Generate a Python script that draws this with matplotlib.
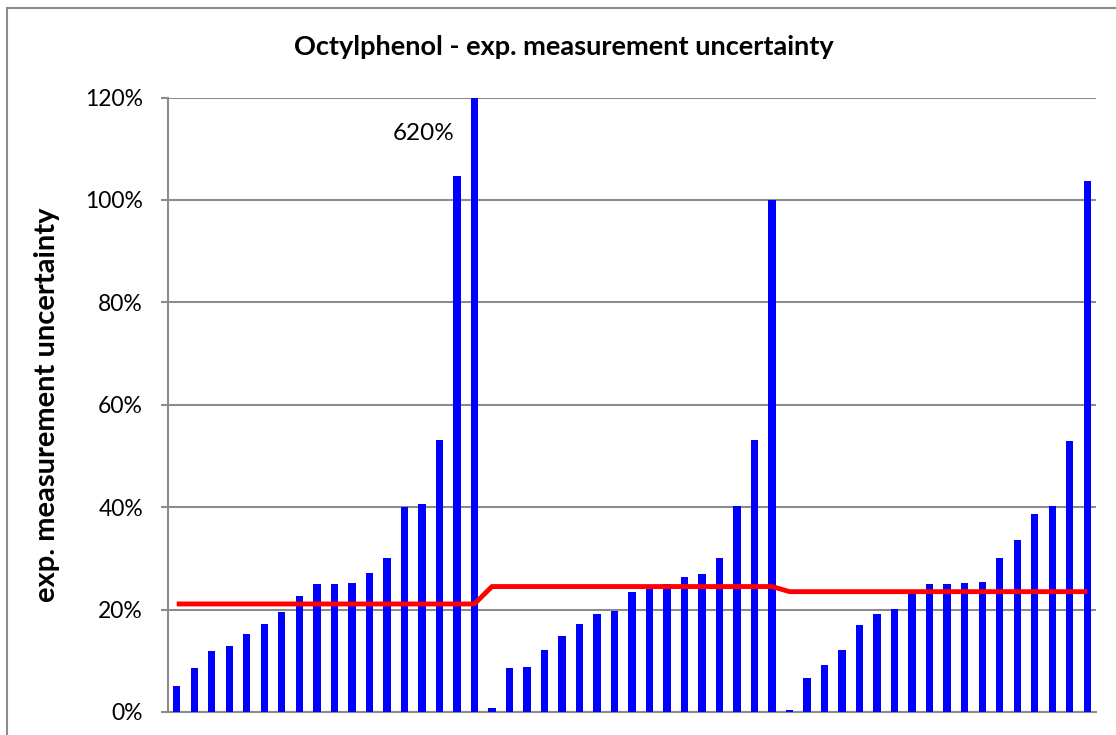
import matplotlib
matplotlib.use("Agg")
import matplotlib.pyplot as plt
from matplotlib.patches import Rectangle
import numpy as np

plt.rcParams['font.family'] = ['Lato', 'DejaVu Sans']

title = "Octylphenol - exp. measurement uncertainty"
ylabel = "exp. measurement uncertainty"

group1 = [5.0, 8.6, 12.0, 12.9, 15.2, 17.1, 19.5, 22.6, 25.0, 25.0, 25.2, 27.1,
          30.0, 40.0, 40.6, 53.1, 104.7, 620.0]
group2 = [0.7, 8.5, 8.7, 12.1, 14.8, 17.1, 19.1, 19.8, 23.5, 24.2, 24.9, 26.3,
          27.0, 30.0, 40.2, 53.1, 100.0]
group3 = [0.45, 6.6, 9.1, 12.1, 17.0, 19.2, 20.1, 23.2, 25.0, 25.0, 25.1, 25.4,
          30.0, 33.5, 38.6, 40.2, 52.9, 103.7]
target1, target2, target3 = 21.1, 24.5, 23.5
yticks = [0, 20, 40, 60, 80, 100, 120]
clipped_label = "620%"

values = np.array(group1 + group2 + group3) / 100.0
targets = np.array([target1] * len(group1) + [target2] * len(group2) + [target3] * len(group3)) / 100.0
x = np.arange(len(values))

fig = plt.figure(figsize=(11.16, 7.35), dpi=100)
fig.patch.set_facecolor('white')
# outer chart frame
fig.add_artist(Rectangle((7 / 1116, -0.1), 1.2, (735 - 8) / 735 + 0.1, transform=fig.transFigure,
                         fill=False, edgecolor='#8c8c8c', linewidth=1.5))

ax = fig.add_axes([168 / 1116, 1 - 712 / 735, (1096 - 168) / 1116, (712 - 97.5) / 735])
ax.bar(x, values, width=0.42, color='#0000FF', zorder=3)
ax.plot(x, targets, color='#FF0000', linewidth=3.5, zorder=4, solid_capstyle='butt')

ax.set_xlim(-0.5, len(values) - 0.5)
ax.set_ylim(0, 1.2)
ax.set_yticks([t / 100 for t in yticks])
ax.set_yticklabels([f"{t}%" for t in yticks], fontsize=16.5)
ax.set_xticks([])
ax.yaxis.grid(True, color='#8c8c8c', linewidth=1.5, zorder=0)
ax.set_axisbelow(True)
for s in ['top', 'right']:
    ax.spines[s].set_visible(False)
for s in ['left', 'bottom']:
    ax.spines[s].set_color('#8c8c8c')
    ax.spines[s].set_linewidth(1.5)
ax.tick_params(axis='y', length=5, width=1.5, color='#8c8c8c', pad=13)

ax.set_ylabel(ylabel, fontsize=21, fontweight='bold')
ax.yaxis.set_label_coords((60 - 168) / 928, 0.5)
fig.text(564 / 1116, 1 - 47 / 735, title, ha='center', va='center', fontsize=19.5, fontweight='bold')

# label for clipped bar
idx = len(group1) - 1
ax.annotate(clipped_label, xy=(idx, 1.13), xytext=(-14, 0), textcoords='offset points',
            ha='right', va='center', fontsize=17.5)

fig.savefig("out.png", dpi=100)
